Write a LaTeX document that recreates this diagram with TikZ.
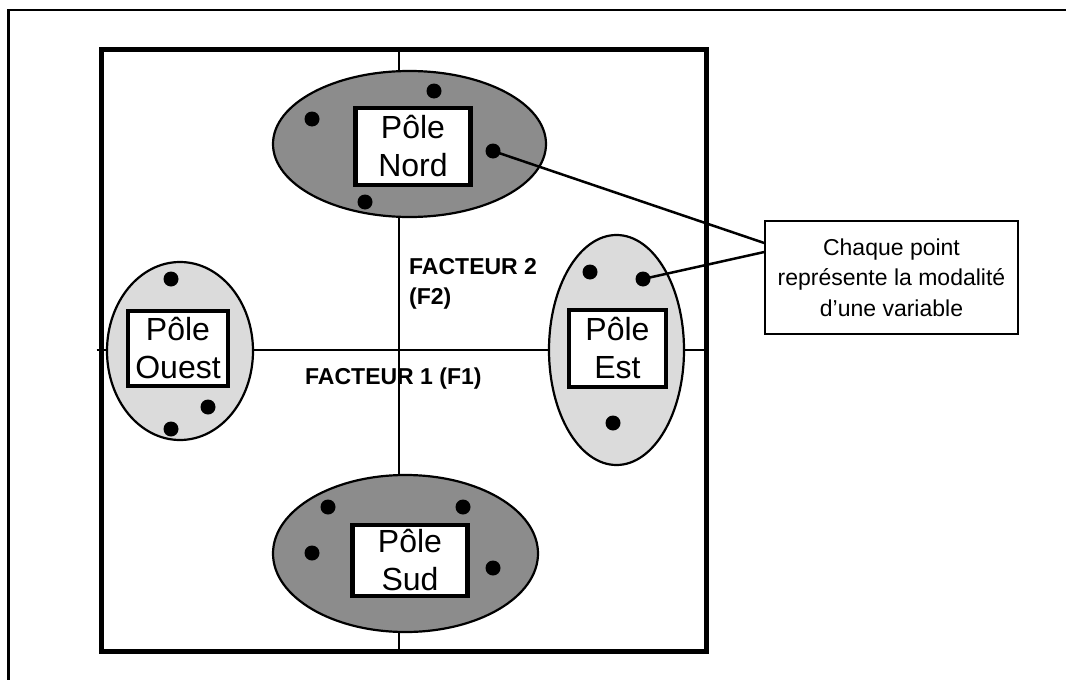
\documentclass[tikz,border=0pt]{standalone}
\usepackage{fontspec}
\setmainfont{Liberation Sans}
\usetikzlibrary{shapes.geometric, positioning}

\begin{document}
\begin{tikzpicture}[x=1pt, y=-1pt,
  ovale/.style={draw, ellipse, line width=2.2pt, inner sep=0pt},
  fonce/.style={ovale, fill=black!45},
  clair/.style={ovale, fill=black!14},
  cadre/.style={draw, line width=4.5pt, fill=white, align=center, inner sep=0pt, font=\fontsize{32}{38}\selectfont},
  pastille/.style={circle, fill=black, inner sep=0pt, minimum size=15pt},
  axe/.style={line width=2.5pt},
  titre/.style={font=\fontsize{23}{30}\selectfont\bfseries, inner sep=0pt}]

\useasboundingbox (0,0) rectangle (1066,680);
\draw [line width=2.5pt] (8.5,680) -- (8.5,10) -- (1066,10);

\node [draw, line width=5pt, minimum width=605pt, minimum height=602pt, inner sep=0pt] (plan) at (403.5,350) {};
\coordinate (f2haut) at (399,51.5);
\coordinate (f2bas)  at (399,648.5);

\draw [axe] ([xshift=-2pt]plan.west) -- (plan.east);
\draw [axe] (f2haut) -- (f2bas);

\node [fonce, minimum width=273pt, minimum height=146pt] (nord)  at (409.5,144)   {};
\node [clair, minimum width=146pt, minimum height=178pt] (ouest) at (180,351)     {};
\node [clair, minimum width=135pt, minimum height=230pt] (est)   at (616.5,350)   {};
\node [fonce, minimum width=265pt, minimum height=157pt] (sud)   at (405.5,553.5) {};

\node [cadre, minimum width=115pt, minimum height=77pt] (cnord)  at (413,146.5)   {Pôle\\Nord};
\node [cadre, minimum width=100pt, minimum height=75pt] (couest) at (178,348.5)   {Pôle\\Ouest};
\node [cadre, minimum width=97pt,  minimum height=77pt] (cest)   at (617.5,348.5) {Pôle\\Est};
\node [cadre, minimum width=115pt, minimum height=71pt] (csud)   at (410,560.5)   {Pôle\\Sud};

\foreach \x/\y [count=\i] in {312/119, 434/91, 493/151, 365/202,
                              171/279, 208/407, 171/429,
                              590/272, 643/279, 613/423,
                              328/507, 463/507, 312/553, 493/568}
  \node [pastille] (m\i) at (\x,\y) {};

\node [titre, anchor=north west, align=left] (f2) at (409,258.5) {FACTEUR 2\\(F2)};
\node [titre, anchor=base west]              (f1) at (305,384)   {FACTEUR 1 (F1)};

\node [draw, line width=1.5pt, minimum width=253pt, minimum height=113pt, align=center,
       font=\fontsize{23}{30.5}\selectfont] (note) at (891.5,277.5)
      {Chaque point\\représente la modalité\\d’une variable};

\draw [axe] ([yshift=34.5pt]note.west) -- (m3.center);
\draw [axe] ([yshift=25.5pt]note.west) -- (m9.center);

\end{tikzpicture}
\end{document}
